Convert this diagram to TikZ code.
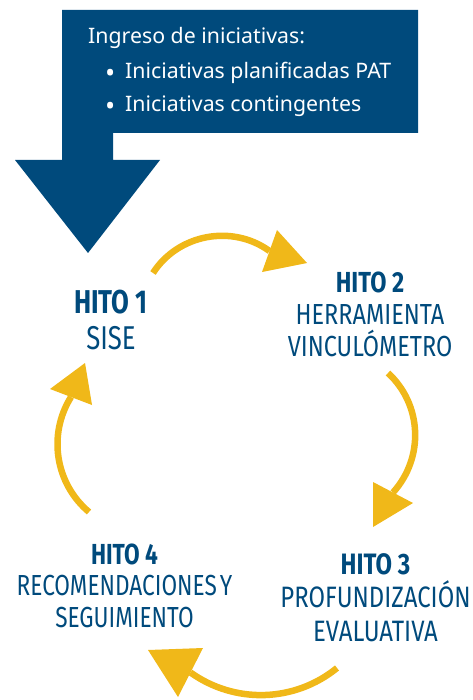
\documentclass[tikz,border=0pt]{standalone}
\usepackage{fontspec}
\setmainfont{Noto Sans}
\newfontfamily\hitofont[FakeStretch=0.78]{Fira Sans}
\newfontfamily\hitofontw[FakeStretch=0.81]{Fira Sans}
\definecolor{azul}{HTML}{004A7C}
\definecolor{oro}{HTML}{F0B819}
\newcommand{\bul}{\makebox[20pt][l]{\raisebox{-3.5pt}{\fontsize{27}{27}\selectfont •}}}
\begin{document}
\begin{tikzpicture}[x=1pt,y=-1pt,
  boxtext/.style={text=white, font=\fontsize{21.3}{25}\selectfont, inner sep=0pt, anchor=base west},
  hito/.style={text=azul, align=center, inner sep=0pt, font=\hitofontw\fontsize{29}{32}\selectfont},
  shaft/.style={draw=oro, line width=6.5pt},
  head/.style={fill=oro, draw=none}]
\useasboundingbox (0,0) rectangle (472,700);
% entry arrow
\fill[azul] (62,10) -- (418,10) -- (418,133) -- (113,133) -- (113,160) -- (160,160)
  -- (88,253) -- (15,160) -- (62,160) -- cycle;
\node[boxtext] (intro) at (88,44) {Ingreso de iniciativas:};
\node[boxtext] (item1) at (105,79) {\bul Iniciativas planificadas PAT};
\node[boxtext] (item2) at (105,112) {\bul Iniciativas contingentes};
% milestones
\node[hito, font=\hitofont\fontsize{33}{36}\selectfont] (h1) at (111,319.5) {\textbf{HITO 1}\\SISE};
\node[hito] (h2) at (370,314.3) {\textbf{HITO 2}\\HERRAMIENTA\\VINCULÓMETRO};
\node[hito, font=\hitofontw\fontsize{29.5}{33.3}\selectfont] (h3) at (375.5,597.5) {\textbf{HITO 3}\\PROFUNDIZACIÓN\\EVALUATIVA};
\node[hito, font=\hitofont\fontsize{29}{31.5}\selectfont] (h4) at (124.5,585.5) {\textbf{HITO 4}\\RECOMENDACIONES\hspace{3pt}Y\\SEGUIMIENTO};
% cycle arrows
\coordinate (s1) at (153,273); \coordinate (b1) at (269.5,251);
\coordinate (s2) at (388,373); \coordinate (b2) at (393,492.5);
\coordinate (s3) at (337,668); \coordinate (b3) at (190.5,672.5);
\coordinate (s4) at (89,512);  \coordinate (b4) at (71,397);
\draw[shaft] (s1) .. controls (178.2,233.9) and (232.3,224) .. (b1);
\fill[head] (277,230) -- (307,263) -- (262,272) -- cycle;
\draw[shaft] (s2) .. controls (422.2,404.6) and (424.4,457.7) .. (b2);
\fill[head] (373,482) -- (413,503) -- (373,527) -- cycle;
\draw[shaft] (s3) .. controls (294.7,702.4) and (234.9,704.2) .. (b3);
\fill[head] (148,650) -- (203,648) -- (178,697) -- cycle;
\draw[shaft] (s4) .. controls (55.2,483.5) and (47.6,434.5) .. (b4);
\fill[head] (50,389) -- (85,363) -- (92,405) -- cycle;
\end{tikzpicture}
\end{document}
